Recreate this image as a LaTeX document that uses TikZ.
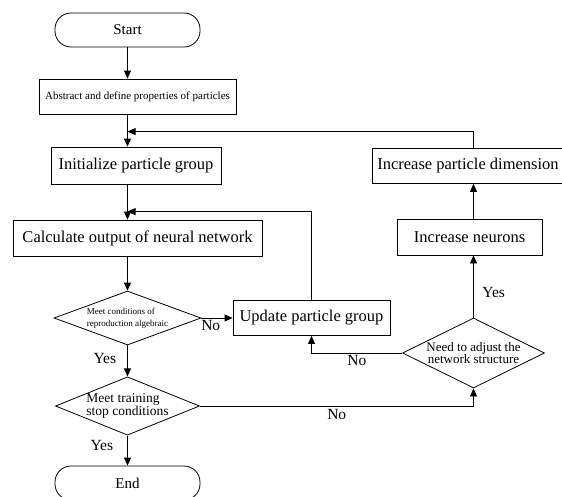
\documentclass[tikz,border=0pt]{standalone}
\usepackage{fontspec}
\setmainfont{Liberation Serif}
\usetikzlibrary{shapes.geometric,arrows.meta,positioning}

\tikzset{
  terminal/.style={draw, rounded corners=16pt, minimum width=145pt, minimum height=34pt, font=\fontsize{15}{17}\selectfont},
  proc/.style={draw, minimum height=36pt, inner xsep=3pt, font=\fontsize{16.5}{18}\selectfont},
  decision/.style={draw, diamond, inner sep=0pt},
  lbl/.style={font=\fontsize{15.5}{17}\selectfont, inner sep=2pt},
}

\begin{document}
\begin{tikzpicture}[>={Triangle[length=8pt,width=7pt]}, line width=0.8pt, on grid]
\useasboundingbox (0,0) rectangle (562pt,-496pt);
% main column
\node[terminal] (start) at (127.5pt,-30pt) {Start};
\node[proc, minimum width=197pt, minimum height=35pt, font=\fontsize{11}{13}\selectfont] (abs) [below right=66.5pt and 10pt of start] {Abstract and define properties of particles};
\node[proc, minimum width=170pt, minimum height=37pt] (init) [below right=135.5pt and 8.5pt of start] {Initialize particle group};
\node[proc, minimum width=249pt] (calc) [below right=208pt and 10pt of start] {Calculate output of neural network};
\node[decision, aspect=2.72, minimum width=147pt, minimum height=54pt, align=left, font=\fontsize{9}{12}\selectfont] (cond) [below=288pt of start] {Meet conditions of\\reproduction algebraic};
\node[decision, aspect=2.47, minimum width=143pt, minimum height=58pt, align=left, font=\fontsize{13.5}{11}\selectfont] (stop) [below=376pt of start] {Meet training\\stop conditions};
\node[terminal] (end) [below=453pt of start] {End};
% right side
\node[proc, minimum width=157pt, minimum height=35pt] (update) [right=184pt of cond] {Update particle group};
\node[decision, aspect=2.03, minimum width=142pt, minimum height=70pt, align=center, font=\fontsize{13}{11}\selectfont] (adjust) [below right=35pt and 162pt of update] {Need to adjust the\\network structure};
\node[proc, minimum width=145pt] (neurons) [above left=116pt and 4pt of adjust] {Increase neurons};
\node[proc, minimum width=192pt, minimum height=35pt] (dim) [above left=71pt and 1.5pt of neurons] {Increase particle dimension};

\coordinate (back1) at ([yshift=15pt]init.north -| start);
\coordinate (back2) at ([yshift=8pt]calc.north -| start);

\path[->]
  (start) edge (start |- abs.north)
  (start |- abs.south) edge (start |- init.north)
  (start |- init.south) edge (start |- calc.north)
  (calc.south -| cond) edge (cond)
  (cond) edge node[lbl, pos=0.41, left=9pt] {Yes} (stop)
  (stop) edge node[lbl, pos=0.32, left=12pt] {Yes} (end)
  (cond) edge node[lbl, pos=0.3, below] {No} (update)
  (adjust) edge node[lbl, pos=0.41, right=6.5pt] {Yes} (adjust |- neurons.south)
  (adjust |- neurons.north) edge (adjust |- dim.south);

\draw[->] (update) |- (back2);
\draw[->] (dim.north -| adjust) |- (back1);
\draw[->] (adjust) -| node[lbl, pos=0.25, below] {No} (update);
\draw[->] (stop) -| node[lbl, pos=0.25, below=1pt] {No} (adjust);
\end{tikzpicture}
\end{document}
